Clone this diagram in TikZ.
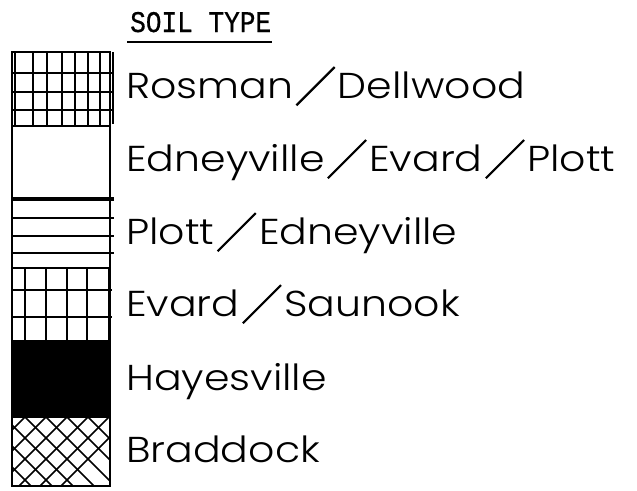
\documentclass[tikz,border=0pt]{standalone}
\usepackage{fontspec}
\usepackage{graphicx}
\IfFontExistsTF{Poppins Light}{\newfontfamily\labelfont[FakeStretch=1.14]{Poppins Light}}{\newfontfamily\labelfont[FakeStretch=1.14]{Poppins}}
\newfontfamily\titlefont[FakeStretch=0.87,FakeBold=0.6]{Liberation Mono}
\newcommand{\slsh}{\hspace{2.5pt}\raisebox{-8pt}{\rotatebox{45}{\rule{54pt}{2.2pt}}}\hspace{2.5pt}}
\usetikzlibrary{calc}
\begin{document}
\begin{tikzpicture}[x=1pt,y=-1pt,
  box/.style={draw, line width=2.4pt, minimum width=98pt, minimum height=#1, inner sep=0pt, outer sep=0pt, anchor=north west},
  hatch/.style={line width=1.8pt},
  thin hatch/.style={line width=1.5pt},
  lbl/.style={anchor=base west, inner sep=0pt, font=\labelfont\fontsize{36}{40}\selectfont},
  ttl/.style={anchor=base west, inner sep=0pt, font=\titlefont\fontsize{30}{34}\selectfont}]
\useasboundingbox (0,0) rectangle (637,490);

% title
\node[ttl] (title) at (130,32) {SOIL TYPE};
\draw[line width=1.6pt] ($(title.base west)+(-3,10)$) -- ($(title.base east)+(1,10)$);

% boxes
\node[box=74pt] (ros) at (12,52) {};
\node[box=73pt] (edn) at (12,126) {};
\node[box=69pt] (plo) at (12,199) {};
\node[box=73pt] (eva) at (12,268) {};
\node[box=76pt, fill=black] (hay) at (12,341) {};
\node[box=69pt] (bra) at (12,417) {};

% Rosman grid
\foreach \x in {15,33,47,62,75,88,100} \draw[hatch] (\x,52) -- (\x,126);
\foreach \y in {73,92,110} \draw[hatch] (12,\y) -- (114,\y);
\draw[hatch] (113,52) -- (113,124);

% Plott lines
\draw[line width=3.5pt] (12,199) -- (114,199);
\foreach \y in {218,236,253} \draw[hatch] (12,\y) -- (114,\y);

% Evard grid
\foreach \x in {25,46,67,87} \draw[hatch] (\x,268) -- (\x,341);
\foreach \y in {290,317} \draw[hatch] (12,\y) -- (112,\y);
\draw[line width=3pt] (109,268) -- (109,341);

% Braddock crosshatch
\begin{scope}
\clip (bra.north west) rectangle (bra.south east);
\foreach \c in {-80,-59,...,130} {
  \draw[thin hatch] (\c,417) -- ++(75,75);
  \draw[thin hatch] (\c,417) -- ++(-75,75);
}
\end{scope}
\draw[line width=2.4pt] (bra.north west) rectangle (bra.south east);

% labels
\node[lbl] (l1) at (126,98) {Rosman\slsh Dellwood};
\node[lbl] (l2) at (126,171) {Edneyville\slsh Evard\slsh Plott};
\node[lbl] (l3) at (126,244) {Plott\slsh Edneyville};
\node[lbl] (l4) at (126,316) {Evard\slsh Saunook};
\node[lbl] (l5) at (126,390) {Hayesville};
\node[lbl] (l6) at (126,462) {Braddock};
\end{tikzpicture}
\end{document}
